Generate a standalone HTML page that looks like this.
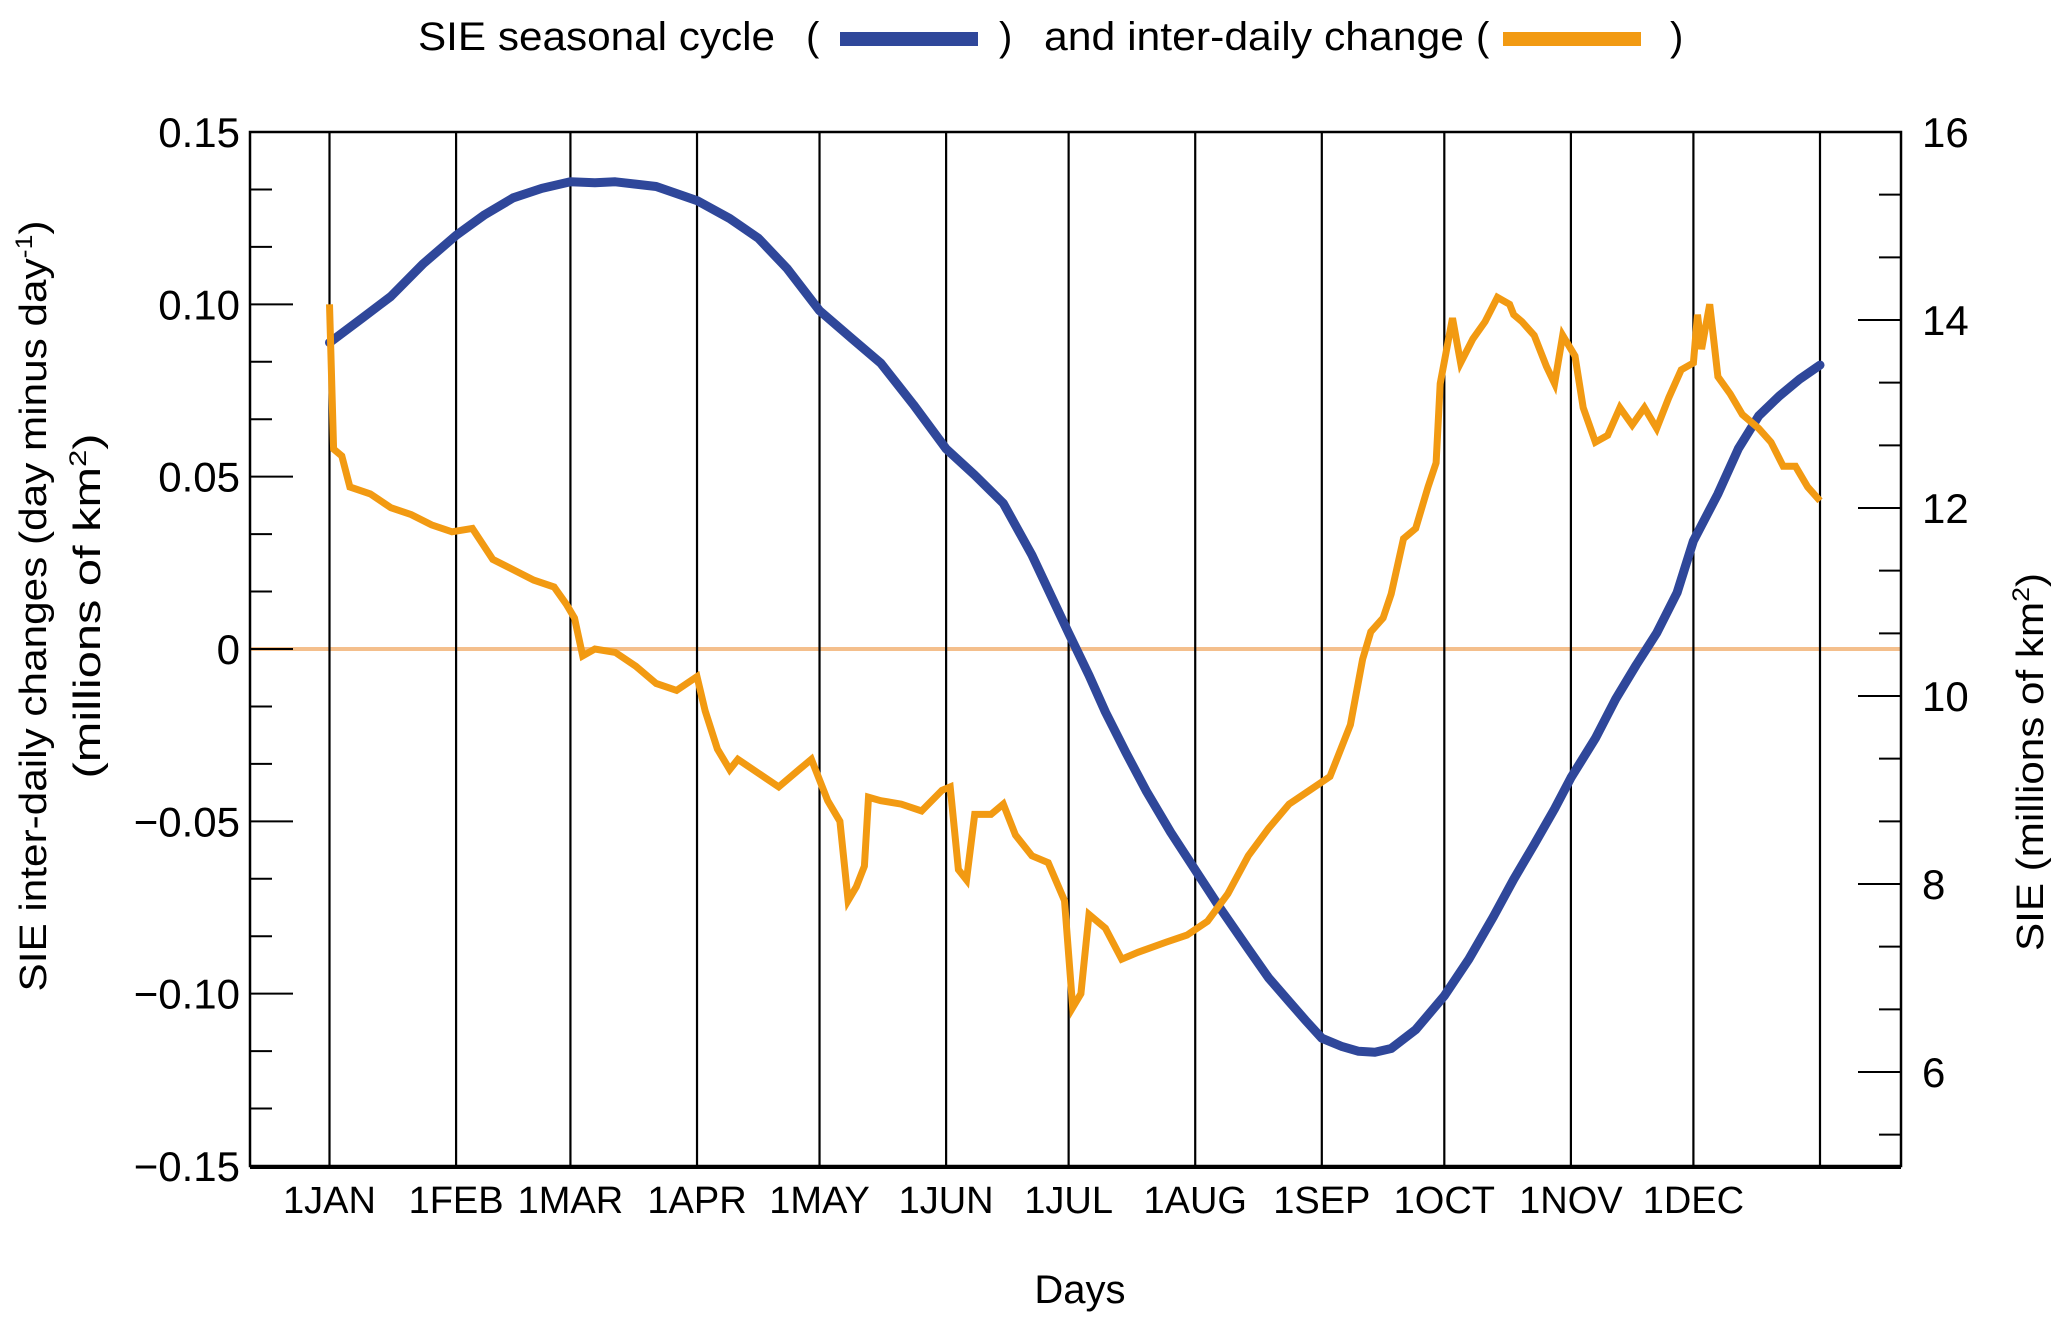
<!DOCTYPE html>
<html><head><meta charset="utf-8"><style>
html,body{margin:0;padding:0;background:#fff;}
svg{display:block;font-family:"Liberation Sans",sans-serif;}
</style></head><body>
<svg id="chart" width="2067" height="1335" viewBox="0 0 2067 1335" xmlns="http://www.w3.org/2000/svg">
<g font-size="40" fill="#000">
  <text x="418" y="50" textLength="357" lengthAdjust="spacingAndGlyphs">SIE seasonal cycle</text>
  <text x="806" y="50">(</text>
  <rect x="840" y="32" width="138" height="14" fill="#2f479a"/>
  <text x="999" y="50">)</text>
  <text x="1044" y="50" textLength="420" lengthAdjust="spacingAndGlyphs">and inter-daily change</text>
  <text x="1476" y="50">(</text>
  <rect x="1503" y="32" width="138" height="14" fill="#f29a12"/>
  <text x="1670" y="50">)</text>
</g>
<g id="grid"></g>
<g id="axes"></g>
<g id="series"></g>
<text x="1080" y="1303" font-size="40" text-anchor="middle">Days</text>
<text transform="translate(46,606) rotate(-90)" font-size="38" text-anchor="middle" textLength="771" lengthAdjust="spacingAndGlyphs">SIE inter-daily changes (day minus day<tspan font-size="24" dy="-14">-1</tspan><tspan dy="14">)</tspan></text>
<text transform="translate(100,606) rotate(-90)" font-size="38" text-anchor="middle" textLength="345" lengthAdjust="spacingAndGlyphs">(millions of km<tspan font-size="24" dy="-14">2</tspan><tspan dy="14">)</tspan></text>
<text transform="translate(2043,762) rotate(-90)" font-size="38" text-anchor="middle" textLength="378" lengthAdjust="spacingAndGlyphs">SIE (millions of km<tspan font-size="24" dy="-14">2</tspan><tspan dy="14">)</tspan></text>
</svg>
<script>
const monthLabels=["1JAN","1FEB","1MAR","1APR","1MAY","1JUN","1JUL","1AUG","1SEP","1OCT","1NOV","1DEC"];
const monthDays=[0,31,59,90,120,151,181,212,243,273,304,334,365];
const leftTicks=[0.15,0.10,0.05,0,-0.05,-0.10,-0.15];
const leftTickLabels=["0.15","0.10","0.05","0","\u22120.05","\u22120.10","\u22120.15"];
const rightTicks=[16,14,12,10,8,6];
const blueDays=[0,8,15,23,31,38,45,52,59,65,70,80,90,98,105,112,120,128,135,143,151,158,165,172,181,186,190,195,200,206,212,218,225,230,235,239,243,248,252,256,260,266,273,279,285,290,295,300,304,310,315,320,325,330,334,340,345,350,355,360,365];
const blueValues=[13.76,14.02,14.25,14.6,14.9,15.12,15.3,15.4,15.47,15.46,15.47,15.42,15.27,15.08,14.87,14.55,14.1,13.8,13.54,13.1,12.63,12.35,12.05,11.5,10.67,10.22,9.83,9.4,8.99,8.55,8.15,7.75,7.31,7.0,6.75,6.55,6.36,6.27,6.22,6.21,6.25,6.45,6.81,7.2,7.65,8.05,8.42,8.8,9.13,9.55,9.97,10.33,10.67,11.1,11.65,12.15,12.63,12.98,13.19,13.37,13.52];
const orangeDays=[0,1,3,5,10,15,20,25,30,35,40,45,50,55,58,60,62,65,70,75,80,85,90,92,95,98,100,105,110,115,118,122,125,127,129,131,132,135,140,145,150,152,154,156,158,162,165,168,172,176,180,182,184,186,190,194,198,205,210,215,220,225,230,235,240,245,250,253,255,258,260,263,266,269,271,272,275,277,280,283,286,289,290,292,295,298,300,302,305,307,310,313,316,319,322,325,328,331,334,335,336,338,340,343,346,350,353,356,359,362,365];
const orangeValues=[0.100,0.058,0.056,0.047,0.045,0.041,0.039,0.036,0.034,0.035,0.026,0.023,0.020,0.018,0.013,0.009,-0.002,0.000,-0.001,-0.005,-0.010,-0.012,-0.008,-0.018,-0.029,-0.035,-0.032,-0.036,-0.040,-0.035,-0.032,-0.044,-0.050,-0.073,-0.069,-0.063,-0.043,-0.044,-0.045,-0.047,-0.041,-0.040,-0.064,-0.067,-0.048,-0.048,-0.045,-0.054,-0.060,-0.062,-0.073,-0.104,-0.100,-0.077,-0.081,-0.090,-0.088,-0.085,-0.083,-0.079,-0.071,-0.060,-0.052,-0.045,-0.041,-0.037,-0.022,-0.003,0.005,0.009,0.016,0.032,0.035,0.047,0.054,0.077,0.096,0.083,0.090,0.095,0.102,0.100,0.097,0.095,0.091,0.082,0.077,0.091,0.085,0.070,0.060,0.062,0.070,0.065,0.070,0.064,0.073,0.081,0.083,0.097,0.087,0.100,0.079,0.074,0.068,0.064,0.060,0.053,0.053,0.047,0.043];

const NS="http://www.w3.org/2000/svg";
const L=250,R=1901,T=132,B=1166;
const X0=329.5,X1=1820;
function xs(d){return X0+(X1-X0)*d/365;}
function yl(v){return T+(0.15-v)/0.30*(B-T);}
function yr(v){return T+(16-v)/11*(B-T);}
function mk(tag,attrs,parent){const e=document.createElementNS(NS,tag);for(const k in attrs)e.setAttribute(k,attrs[k]);parent.appendChild(e);return e;}
const grid=document.getElementById('grid'),axes=document.getElementById('axes'),series=document.getElementById('series');

const z=mk('line',{x1:L,x2:R,y1:yl(0),y2:yl(0),stroke:'#f4bf8c','stroke-width':4},grid);



monthDays.forEach((d,i)=>{
  const ln=mk('line',{x1:xs(d),x2:xs(d),y1:T,y2:B,stroke:'#000','stroke-width':2.2},grid);
  
  
  if(i<monthLabels.length){
    const t=mk('text',{x:xs(d),y:1213,'font-size':38,'text-anchor':'middle'},axes);
    t.textContent=monthLabels[i];
    
    
  }
});

const fr=mk('rect',{x:L,y:T,width:R-L,height:B-T,fill:'none',stroke:'#000','stroke-width':2.5},axes);


const bl=mk('line',{x1:L,x2:R,y1:B+2,y2:B+2,stroke:'#000','stroke-width':2},axes);



for(let k=0;k<=18;k++){
  const v=0.15-k*0.3/18;const major=k%3===0;
  const tk=mk('line',{x1:L,x2:L+(major?43:22),y1:yl(v),y2:yl(v),stroke:'#000','stroke-width':2},axes);
  
  
}
leftTicks.forEach((v,i)=>{
  const t=mk('text',{x:240,y:yl(v)+15,'font-size':42,'text-anchor':'end'},axes);
  t.textContent=leftTickLabels[i];
  
  
});
for(let k=0;k<=16;k++){
  const v=16-k*2/3;if(v<5)break;const major=k%3===0;
  const tk=mk('line',{x1:R,x2:R-(major?43:22),y1:yr(v),y2:yr(v),stroke:'#000','stroke-width':2},axes);
  
  
}
rightTicks.forEach(v=>{
  const t=mk('text',{x:1922,y:yr(v)+15,'font-size':42},axes);
  t.textContent=String(v);
  
  
});

const bp=blueDays.map((d,i)=>xs(d).toFixed(1)+','+yr(blueValues[i]).toFixed(1)).join(' ');
const blue=mk('polyline',{points:bp,fill:'none',stroke:'#2f479a','stroke-width':9,'stroke-linejoin':'round','stroke-linecap':'round'},series);


const op=orangeDays.map((d,i)=>xs(d).toFixed(1)+','+yl(orangeValues[i]).toFixed(1)).join(' ');
const orange=mk('polyline',{points:op,fill:'none',stroke:'#f29a12','stroke-width':7,'stroke-linejoin':'miter'},series);


</script>
</body></html>
